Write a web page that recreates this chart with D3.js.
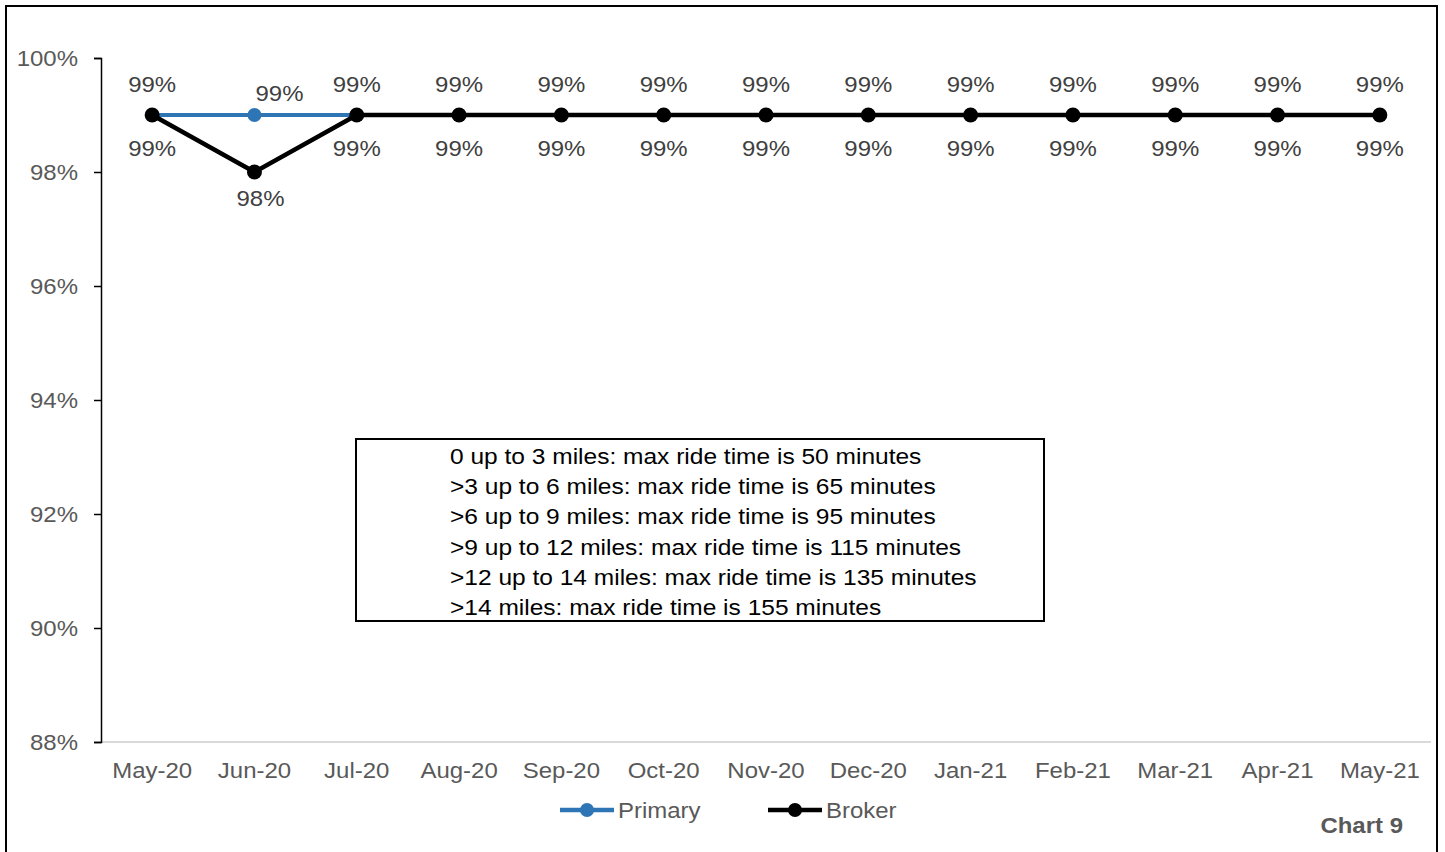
<!DOCTYPE html>
<html>
<head>
<meta charset="utf-8">
<script src="https://cdn.jsdelivr.net/npm/d3@7"></script>
<style>
  html, body { margin: 0; padding: 0; background: #fff; }
  svg { display: block; font-family: "Liberation Sans", Arial, sans-serif; }
</style>
</head>
<body>
<svg id="chart" width="1445" height="852"></svg>
<script>
// On-time performance by month, primary vs broker transport
const months = ["May-20","Jun-20","Jul-20","Aug-20","Sep-20","Oct-20","Nov-20","Dec-20","Jan-21","Feb-21","Mar-21","Apr-21","May-21"];
const primary = [99, 99, 99, 99, 99, 99, 99, 99, 99, 99, 99, 99, 99];
const broker  = [99, 98, 99, 99, 99, 99, 99, 99, 99, 99, 99, 99, 99];
const yTicks  = [88, 90, 92, 94, 96, 98, 100];
const noteLines = [
  "0 up to 3 miles: max ride time is 50 minutes",
  ">3 up to 6 miles: max ride time is 65 minutes",
  ">6 up to 9 miles: max ride time is 95 minutes",
  ">9 up to 12 miles: max ride time is 115 minutes",
  ">12 up to 14 miles: max ride time is 135 minutes",
  ">14 miles: max ride time is 155 minutes"
];
const chartTag = "Chart 9";

const svg = d3.select("#chart");
const textGrey = "#595959";
const blue = "#2e75b6";
const WIDE = 1.09; // slightly widened lettering

// place a text at (px, py) with horizontal widening
function place(sel, px, py, k = WIDE) {
  sel.attr("x", 0).attr("y", 0)
    .attr("transform", (d, i) => `translate(${typeof px === "function" ? px(d, i) : px},${typeof py === "function" ? py(d, i) : py}) scale(${k},1)`);
  return sel;
}

// frame
svg.append("rect").attr("x", 6).attr("y", 6).attr("width", 1431).attr("height", 870)
  .attr("fill", "#fff").attr("stroke", "#000").attr("stroke-width", 2);

const x = d3.scaleBand().domain(months).range([101, 1431]);
const cx = m => x(m) + x.bandwidth() / 2;
const y = d3.scaleLinear().domain([88, 100]).range([742, 58]);

// category axis line
svg.append("line").attr("x1", 101).attr("x2", 1431).attr("y1", y(88)).attr("y2", y(88))
  .attr("stroke", "#d9d9d9").attr("stroke-width", 2);

place(svg.append("g").selectAll("text").data(months).join("text"), d => cx(d), 778)
  .attr("text-anchor", "middle").attr("fill", textGrey).attr("font-size", 22)
  .text(d => d);

// value axis
const yAxis = svg.append("g").attr("transform", "translate(101,0)")
  .call(d3.axisLeft(y).tickValues(yTicks).tickSize(7).tickPadding(16).tickFormat(d => d + "%"));
yAxis.select(".domain").attr("stroke", "#000").attr("stroke-width", 1.5);
yAxis.selectAll(".tick line").attr("stroke", "#000").attr("stroke-width", 1.5);
yAxis.selectAll(".tick text").attr("fill", textGrey).attr("font-size", 22)
  .attr("font-family", "'Liberation Sans', Arial, sans-serif")
  .attr("x", -23 / WIDE).attr("transform", `scale(${WIDE},1)`);

// series
const line = d3.line().x(d => cx(d.m)).y(d => y(d.v));
const series = [
  { name: "Primary", color: blue, values: primary, r: 7 },
  { name: "Broker", color: "#000", values: broker, r: 7.5 }
];
series.forEach(s => {
  const pts = months.map((m, i) => ({ m, v: s.values[i] }));
  svg.append("path").datum(pts).attr("d", line)
    .attr("fill", "none").attr("stroke", s.color).attr("stroke-width", s.name === "Broker" ? 4.5 : 4)
    .attr("stroke-linejoin", "round");
  svg.append("g").selectAll("circle").data(pts).join("circle")
    .attr("cx", d => cx(d.m)).attr("cy", d => y(d.v)).attr("r", s.r).attr("fill", s.color);
});

// data labels: primary above, broker below; the dip month is nudged aside
const nudgePrimary = { "Jun-20": [25, 9] };
const nudgeBroker = { "Jun-20": [6, -7] };
place(svg.append("g").selectAll("text").data(months).join("text"),
    d => cx(d) + (nudgePrimary[d] ? nudgePrimary[d][0] : 0),
    (d, i) => y(primary[i]) - 23 + (nudgePrimary[d] ? nudgePrimary[d][1] : 0))
  .attr("text-anchor", "middle").attr("fill", "#404040").attr("font-size", 22)
  .text((d, i) => primary[i] + "%");
place(svg.append("g").selectAll("text").data(months).join("text"),
    d => cx(d) + (nudgeBroker[d] ? nudgeBroker[d][0] : 0),
    (d, i) => y(broker[i]) + 41 + (nudgeBroker[d] ? nudgeBroker[d][1] : 0))
  .attr("text-anchor", "middle").attr("fill", "#404040").attr("font-size", 22)
  .text((d, i) => broker[i] + "%");

// note box
svg.append("rect").attr("x", 356).attr("y", 439).attr("width", 688).attr("height", 182)
  .attr("fill", "#fff").attr("stroke", "#000").attr("stroke-width", 2);
place(svg.append("g").selectAll("text").data(noteLines).join("text"), 450, (d, i) => 464 + i * 30.2, 1.115)
  .attr("fill", "#000").attr("font-size", 22).text(d => d);

// legend
const legend = [
  { name: "Primary", color: blue, x: 560 },
  { name: "Broker", color: "#000", x: 768 }
];
const lg = svg.append("g").selectAll("g").data(legend).join("g")
  .attr("transform", d => `translate(${d.x},810)`);
lg.append("line").attr("x1", 0).attr("x2", 54).attr("y1", 0).attr("y2", 0)
  .attr("stroke", d => d.color).attr("stroke-width", 4.5);
lg.append("circle").attr("cx", 27).attr("cy", 0).attr("r", 7).attr("fill", d => d.color);
place(lg.append("text"), 58, 8)
  .attr("fill", textGrey).attr("font-size", 22).text(d => d.name);

place(svg.append("text"), 1403, 833)
  .attr("text-anchor", "end")
  .attr("fill", textGrey).attr("font-size", 22).attr("font-weight", "bold").text(chartTag);
</script>
</body>
</html>
